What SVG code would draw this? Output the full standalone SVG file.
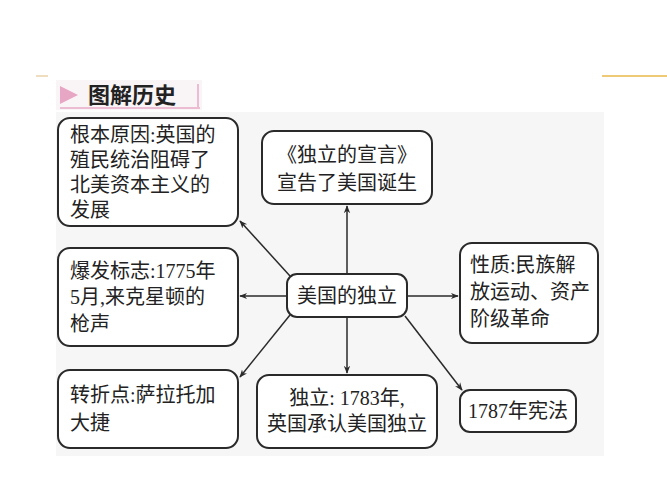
<svg xmlns="http://www.w3.org/2000/svg" width="667" height="500" viewBox="0 0 667 500">
<defs>
<style>
.box{fill:#fff;stroke:#2a2a2a;stroke-width:2}
.t{font-family:"Liberation Serif","Noto Sans CJK SC",serif;font-size:20px;fill:#222}
.c{text-anchor:middle}
.ln{stroke:#2a2a2a;stroke-width:1.5;fill:none;marker-end:url(#a)}
</style>
<marker id="a" viewBox="0 0 10 10" refX="9" refY="5" markerWidth="8" markerHeight="8" orient="auto" markerUnits="userSpaceOnUse"><path d="M0,1 L10,5 L0,9 L3,5 Z" fill="#2a2a2a"/></marker>
</defs>
<rect width="667" height="500" fill="#fff"/>
<rect x="56" y="112" width="548" height="344" fill="#f6f6f6"/>
<line x1="36" y1="76" x2="48" y2="76" stroke="#e8d2a8" stroke-width="1.5"/>
<line x1="602" y1="76" x2="667" y2="76" stroke="#e8b84a" stroke-width="1.5"/>
<g id="header">
<rect x="56" y="80" width="146" height="30" fill="#f9f4f6"/>
<path d="M60,86 L78,95 L60,104 Z" fill="#e7a6c4"/>
<text x="88" y="103" font-family="Noto Sans CJK SC,sans-serif" font-size="22" font-weight="bold" fill="#222">图解历史</text>
<line x1="60" y1="108" x2="200" y2="108" stroke="#ecbcd2" stroke-width="2"/>
<line x1="198" y1="84" x2="198" y2="108" stroke="#ecbcd2" stroke-width="2"/>
</g>
<g id="connectors">
<line class="ln" x1="347" y1="274" x2="347" y2="206"/>
<line class="ln" x1="287" y1="296" x2="240" y2="296"/>
<line class="ln" x1="407" y1="296" x2="458" y2="296"/>
<line class="ln" x1="290" y1="276" x2="240" y2="221"/>
<line class="ln" x1="290" y1="315" x2="240" y2="377"/>
<line class="ln" x1="347" y1="317" x2="347" y2="373"/>
<line class="ln" x1="405" y1="316" x2="462" y2="390"/>
</g>
<g id="cause"><rect class="box" x="58" y="118" width="180" height="108" rx="12"/>
<text class="t" x="70" y="142">根本原因:英国的</text><text class="t" x="70" y="167">殖民统治阻碍了</text><text class="t" x="70" y="192">北美资本主义的</text><text class="t" x="70" y="217">发展</text></g>
<g id="declaration"><rect class="box" x="262" y="131" width="170" height="73" rx="12"/>
<text class="t c" x="347" y="162">《独立的宣言》</text><text class="t c" x="347" y="190">宣告了美国诞生</text></g>
<g id="outbreak"><rect class="box" x="58" y="248" width="180" height="98" rx="12"/>
<text class="t" x="70" y="278">爆发标志:1775年</text><text class="t" x="70" y="304">5月,来克星顿的</text><text class="t" x="70" y="331">枪声</text></g>
<g id="center"><rect class="box" x="287" y="274" width="120" height="43" rx="10"/>
<text class="t c" x="347" y="303">美国的独立</text></g>
<g id="nature"><rect class="box" x="460" y="243" width="138" height="100" rx="12"/>
<text class="t" x="470" y="272">性质:民族解</text><text class="t" x="470" y="299">放运动、资产</text><text class="t" x="470" y="326">阶级革命</text></g>
<g id="turning"><rect class="box" x="58" y="370" width="180" height="78" rx="12"/>
<text class="t" x="70" y="402">转折点:萨拉托加</text><text class="t" x="70" y="430">大捷</text></g>
<g id="independence"><rect class="box" x="257" y="375" width="180" height="73" rx="12"/>
<text class="t c" x="347" y="405">独立: 1783年,</text><text class="t c" x="347" y="431">英国承认美国独立</text></g>
<g id="constitution"><rect class="box" x="460" y="390" width="116" height="42" rx="10"/>
<text class="t c" x="518" y="418">1787年宪法</text></g>
</svg>
